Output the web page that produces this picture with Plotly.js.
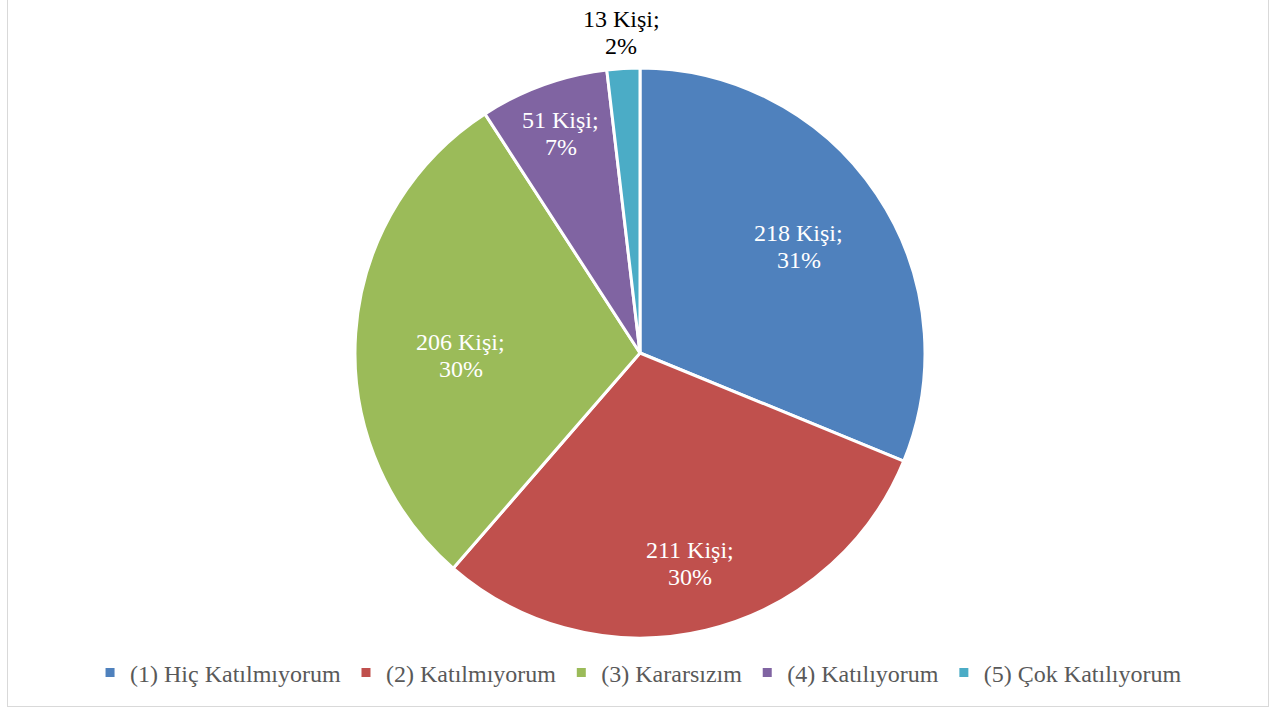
<!DOCTYPE html>
<html>
<head>
<meta charset="utf-8">
<script src="https://cdn.plot.ly/plotly-3.0.1.min.js"></script>
<style>
html,body{margin:0;padding:0;background:#fff;}
#frame{position:absolute;left:7px;top:-2px;width:1262px;height:709px;border:1px solid #d9d9d9;box-sizing:border-box;}
#chart{position:absolute;left:0;top:0;width:1272px;height:711px;}
</style>
</head>
<body>
<div id="frame"></div>
<div id="chart"></div>
<script>
const categories = ['(1) Hiç Katılmıyorum', '(2) Katılmıyorum', '(3) Kararsızım', '(4) Katılıyorum', '(5) Çok Katılıyorum'];
const counts = [218, 211, 206, 51, 13];
const colors = ['#4F81BD', '#C0504D', '#9BBB59', '#8064A2', '#4BACC6'];
// label placement (fraction of radius along each slice bisector, plus small vertical nudge in px), like Excel "best fit"
const labelRadius = [0.67, 0.76, 0.63, 0.82, 1.13];
const labelNudge = [0, 0, 15, 0, 1];
const labelColors = ['#ffffff', '#ffffff', '#ffffff', '#ffffff', '#000000'];

const W = 1272, H = 711;
const cx = 640, cy = 353, R = 285;
const FONT = 'Liberation Serif';

// percentages rounded so they sum to 100 (largest remainder), as in the original labels
const total = counts.reduce((a, b) => a + b, 0);
const raw = counts.map(v => v * 100 / total);
const pct = raw.map(Math.floor);
let left = 100 - pct.reduce((a, b) => a + b, 0);
raw.map((v, i) => [v - Math.floor(v), i]).sort((a, b) => b[0] - a[0]).slice(0, left).forEach(([, i]) => pct[i]++);

const trace = {
  type: 'pie',
  labels: categories,
  values: counts,
  sort: false,
  direction: 'clockwise',
  rotation: 0,
  marker: {colors: colors, line: {color: '#ffffff', width: 3}},
  textinfo: 'none',
  hoverinfo: 'label+value+percent',
  domain: {x: [(cx - R) / W, (cx + R) / W], y: [(H - cy - R) / H, (H - cy + R) / H]}
};

const annotations = [];
let cum = 0;
counts.forEach((v, i) => {
  const mid = (cum + v / 2) / total;
  cum += v;
  const ang = mid * 2 * Math.PI;
  const r = labelRadius[i] * R;
  const px = cx + r * Math.sin(ang);
  const py = cy - r * Math.cos(ang) + labelNudge[i];
  const lines = [v + ' Kişi;', pct[i] + '%'];
  lines.forEach((t, k) => {
    annotations.push({
      xref: 'paper', yref: 'paper',
      x: px / W, y: 1 - (py + (k - 0.5) * 27) / H,
      xanchor: 'center', yanchor: 'middle',
      text: t, showarrow: false,
      font: {family: FONT, size: 24, color: labelColors[i]}
    });
  });
});

const layout = {
  width: W, height: H,
  margin: {l: 0, r: 0, t: 0, b: 0},
  paper_bgcolor: 'rgba(0,0,0,0)',
  plot_bgcolor: 'rgba(0,0,0,0)',
  showlegend: true,
  annotations: annotations,
  legend: {
    orientation: 'h', x: 0.502, xanchor: 'center', y: (H - 673) / H, yanchor: 'middle',
    font: {family: FONT, size: 24, color: '#595959'},
    traceorder: 'normal'
  }
};

Plotly.newPlot('chart', [trace], layout, {displayModeBar: false});
</script>
</body>
</html>
